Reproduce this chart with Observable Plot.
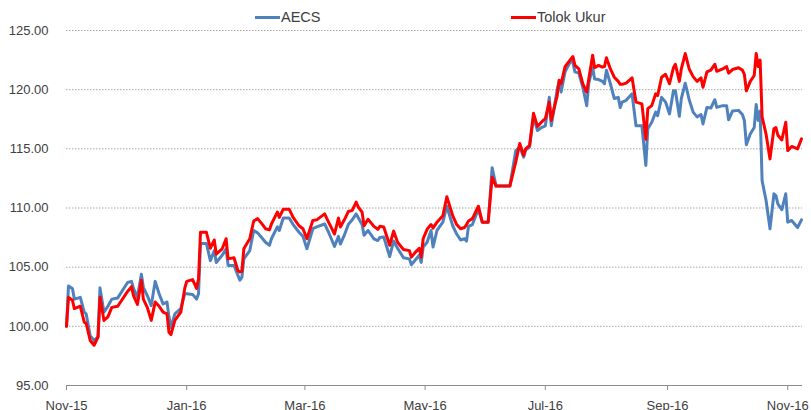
<!DOCTYPE html>
<html>
<head>
<meta charset="utf-8">
<script src="https://cdn.jsdelivr.net/npm/d3@7"></script>
<script src="https://cdn.jsdelivr.net/npm/@observablehq/plot@0.6"></script>
<style>
  html, body { margin: 0; padding: 0; background: #fff; }
  #wrap { position: relative; width: 811px; height: 410px; }
  .leg { position: absolute; top: 9px; font-family: "Liberation Sans", Arial, sans-serif; font-size: 14.5px; color: #404040; display: flex; align-items: center; white-space: nowrap; }
  .leg .sw { display: inline-block; width: 25px; height: 3px; margin-right: 1px; }
</style>
</head>
<body>
<div id="wrap"></div>
<script>
const dates = [
"2015-11-01","2015-11-02","2015-11-04","2015-11-05","2015-11-08","2015-11-10","2015-11-11","2015-11-13","2015-11-15","2015-11-17",
"2015-11-18","2015-11-20","2015-11-22","2015-11-24","2015-11-27","2015-12-02","2015-12-04","2015-12-05","2015-12-07","2015-12-09",
"2015-12-10","2015-12-12","2015-12-14","2015-12-16","2015-12-18","2015-12-20","2015-12-22","2015-12-23","2015-12-24","2015-12-26",
"2015-12-29","2015-12-31","2016-01-01","2016-01-04","2016-01-06","2016-01-07","2016-01-08","2016-01-11","2016-01-13","2016-01-15",
"2016-01-16","2016-01-19","2016-01-21","2016-01-22","2016-01-25","2016-01-27","2016-01-28","2016-01-29","2016-01-30","2016-02-02",
"2016-02-04","2016-02-06","2016-02-08","2016-02-10","2016-02-12","2016-02-13","2016-02-16","2016-02-17","2016-02-19","2016-02-22",
"2016-02-24","2016-02-27","2016-02-29","2016-03-02","2016-03-05","2016-03-07","2016-03-11","2016-03-13","2016-03-16","2016-03-18",
"2016-03-19","2016-03-21","2016-03-23","2016-03-25","2016-03-27","2016-03-28","2016-03-30","2016-03-31","2016-04-02","2016-04-05",
"2016-04-07","2016-04-08","2016-04-10","2016-04-13","2016-04-15","2016-04-17","2016-04-20","2016-04-23","2016-04-24","2016-04-26",
"2016-04-28","2016-04-29","2016-04-30","2016-05-02","2016-05-04","2016-05-05","2016-05-07","2016-05-10","2016-05-12","2016-05-15",
"2016-05-17","2016-05-19","2016-05-21","2016-05-22","2016-05-23","2016-05-25","2016-05-28","2016-05-30","2016-06-02","2016-06-04",
"2016-06-06","2016-06-13","2016-06-16","2016-06-18","2016-06-20","2016-06-21","2016-06-23","2016-06-25","2016-06-27","2016-06-29",
"2016-07-01","2016-07-03","2016-07-04","2016-07-07","2016-07-08","2016-07-09","2016-07-11","2016-07-14","2016-07-15","2016-07-16",
"2016-07-18","2016-07-20","2016-07-22","2016-07-23","2016-07-25","2016-07-26","2016-07-28","2016-07-30","2016-07-31","2016-08-01",
"2016-08-03","2016-08-05","2016-08-07","2016-08-08","2016-08-09","2016-08-11","2016-08-14","2016-08-16","2016-08-19","2016-08-21",
"2016-08-22","2016-08-24","2016-08-26","2016-08-27","2016-08-29","2016-08-31","2016-09-02","2016-09-04","2016-09-05","2016-09-07",
"2016-09-08","2016-09-10","2016-09-12","2016-09-14","2016-09-16","2016-09-18","2016-09-19","2016-09-21","2016-09-23","2016-09-25",
"2016-09-26","2016-09-29","2016-10-01","2016-10-02","2016-10-04","2016-10-07","2016-10-09","2016-10-10","2016-10-11","2016-10-13",
"2016-10-15","2016-10-16","2016-10-17","2016-10-18","2016-10-19","2016-10-21","2016-10-23","2016-10-25","2016-10-26","2016-10-27",
"2016-10-29","2016-10-31","2016-11-01","2016-11-03","2016-11-06","2016-11-08"
];
const aecs = [
100.0,103.4,103.2,102.3,102.45,101.2,101.05,99.2,98.8,99.1,
103.25,101.2,101.7,102.3,102.4,103.7,103.8,103.2,102.45,104.4,
103.3,102.6,101.75,103.8,102.75,101.9,102.05,100.8,99.9,101.05,
101.5,102.75,102.75,102.7,102.3,102.75,107.0,107.0,105.55,106.4,
105.4,106.0,106.55,105.15,105.15,104.3,103.9,104.15,105.7,106.4,
108.1,107.9,107.5,107.1,106.85,107.4,108.4,108.1,109.15,109.15,
108.6,107.95,107.6,106.55,108.25,108.4,108.65,107.95,106.75,107.6,
106.95,107.7,108.6,109.0,109.5,109.2,108.6,107.7,108.1,107.4,
107.25,107.5,107.55,105.9,107.2,106.6,105.8,105.7,105.2,105.6,
106.0,105.4,106.7,107.1,108.1,106.7,108.1,108.8,110.15,108.5,
107.8,107.3,107.4,107.2,108.45,108.6,109.9,108.8,108.8,113.4,
111.85,111.85,114.85,115.15,114.3,114.9,115.15,117.7,116.55,116.8,
116.95,119.35,116.95,120.0,120.7,119.8,121.5,122.45,122.3,121.5,
121.4,120.2,118.65,120.5,121.9,120.9,120.85,120.7,120.5,121.65,
120.5,119.25,119.35,118.5,118.95,119.1,119.65,116.95,116.95,113.6,
116.7,117.25,118.1,117.8,119.35,118.95,117.95,119.9,119.9,117.75,
119.25,120.55,119.15,118.1,117.7,117.9,117.1,118.5,118.45,119.15,
118.5,118.65,118.65,117.45,118.2,118.25,117.9,117.4,115.35,116.25,
116.8,118.75,117.4,118.2,112.3,110.65,108.25,111.2,111.05,110.35,
109.85,111.2,108.8,108.95,108.35,109.0
];
const tolok = [
100.0,102.45,102.2,101.5,101.7,100.35,100.25,98.8,98.4,99.1,
102.45,100.5,100.8,101.6,101.7,102.95,103.35,102.6,101.85,103.9,
102.3,101.6,100.5,102.05,101.7,101.2,101.05,99.5,99.3,100.5,
101.2,103.2,103.8,103.95,103.2,104.0,107.95,107.95,106.6,107.3,
106.1,106.55,107.4,105.7,105.8,104.7,104.6,104.65,106.55,107.4,
108.9,109.1,108.7,108.25,108.15,108.65,109.65,109.2,109.9,109.9,
109.2,108.5,108.25,107.4,108.95,109.0,109.5,108.8,107.8,109.15,
108.4,109.0,109.7,109.8,110.5,110.1,109.65,108.5,109.05,108.45,
108.2,108.45,108.4,106.85,108.05,107.1,106.5,106.4,105.85,106.25,
106.6,105.85,107.4,108.2,108.6,108.3,108.8,109.35,110.95,109.35,
108.6,108.25,108.35,108.6,108.9,109.1,110.15,108.8,108.8,112.6,
111.85,111.85,113.9,115.45,114.45,115.0,115.3,118.0,116.9,117.25,
117.55,118.95,117.4,119.5,120.8,120.5,121.95,122.6,122.8,122.05,
121.75,120.5,119.8,120.85,122.9,121.85,122.05,121.9,121.95,122.7,
121.75,121.05,120.7,120.45,120.45,120.55,121.0,118.95,118.8,115.8,
118.4,118.65,119.65,119.5,121.05,121.3,120.5,121.85,122.15,120.7,
121.75,123.05,121.75,121.1,120.7,121.0,120.2,121.5,121.65,122.15,
121.55,121.75,121.95,121.4,121.7,121.85,121.65,121.3,119.9,120.7,
121.2,123.05,121.95,122.5,117.7,116.25,114.15,116.7,116.8,116.15,
115.75,117.25,114.85,115.2,115.0,115.85
];
const seriesNames = ["AECS", "Tolok Ukur"];
const seriesColors = ["#4F81BD", "#FF0000"];
const yTicks = [95, 100, 105, 110, 115, 120, 125];
const xTickLabels = ["2015-11-01","2016-01-01","2016-03-01","2016-05-01","2016-07-01","2016-09-01","2016-11-01"];
const xDomain = ["2015-11-01", "2016-11-08T12:00Z"];

const data = dates.map((d, i) => ({date: new Date(d), aecs: aecs[i], tolok: tolok[i]}));
const xTicks = xTickLabels.map(d => new Date(d));
const fmt = d3.utcFormat("%b-%y");

const chart = Plot.plot({
  width: 811,
  height: 410,
  marginLeft: 66,
  marginRight: 9,
  marginTop: 30,
  marginBottom: 25,
  style: {fontFamily: "'Liberation Sans', Arial, sans-serif", fontSize: "13px", color: "#404040", background: "#fff", overflow: "visible"},
  x: {type: "utc", domain: xDomain.map(d => new Date(d)), label: null},
  y: {domain: [95, 125], label: null},
  marks: [
    Plot.ruleY(yTicks.filter(v => v > 95), {stroke: "#a6a6a6", strokeWidth: 1, strokeDasharray: "1.5,1.5"}),
    Plot.ruleY([95], {stroke: "#8c8c8c", strokeWidth: 1}),
    Plot.axisY({ticks: yTicks, tickFormat: d => d.toFixed(2), tickSize: 0, tickPadding: 18, label: null, fontSize: 13}),
    Plot.axisX({ticks: xTicks, tickFormat: fmt, tickSize: 5, tickPadding: 10, stroke: "#8c8c8c", label: null, fontSize: 13}),
    Plot.lineY(data, {x: "date", y: "aecs", stroke: seriesColors[0], strokeWidth: 3}),
    Plot.lineY(data, {x: "date", y: "tolok", stroke: seriesColors[1], strokeWidth: 3})
  ]
});

const wrap = document.getElementById("wrap");
wrap.appendChild(chart);
const legendLeft = [255, 511];
seriesNames.forEach((name, i) => {
  const el = document.createElement("div");
  el.className = "leg";
  el.style.left = legendLeft[i] + "px";
  const sw = document.createElement("span");
  sw.className = "sw";
  sw.style.background = seriesColors[i];
  el.appendChild(sw);
  el.appendChild(document.createTextNode(name));
  wrap.appendChild(el);
});
</script>
</body>
</html>
